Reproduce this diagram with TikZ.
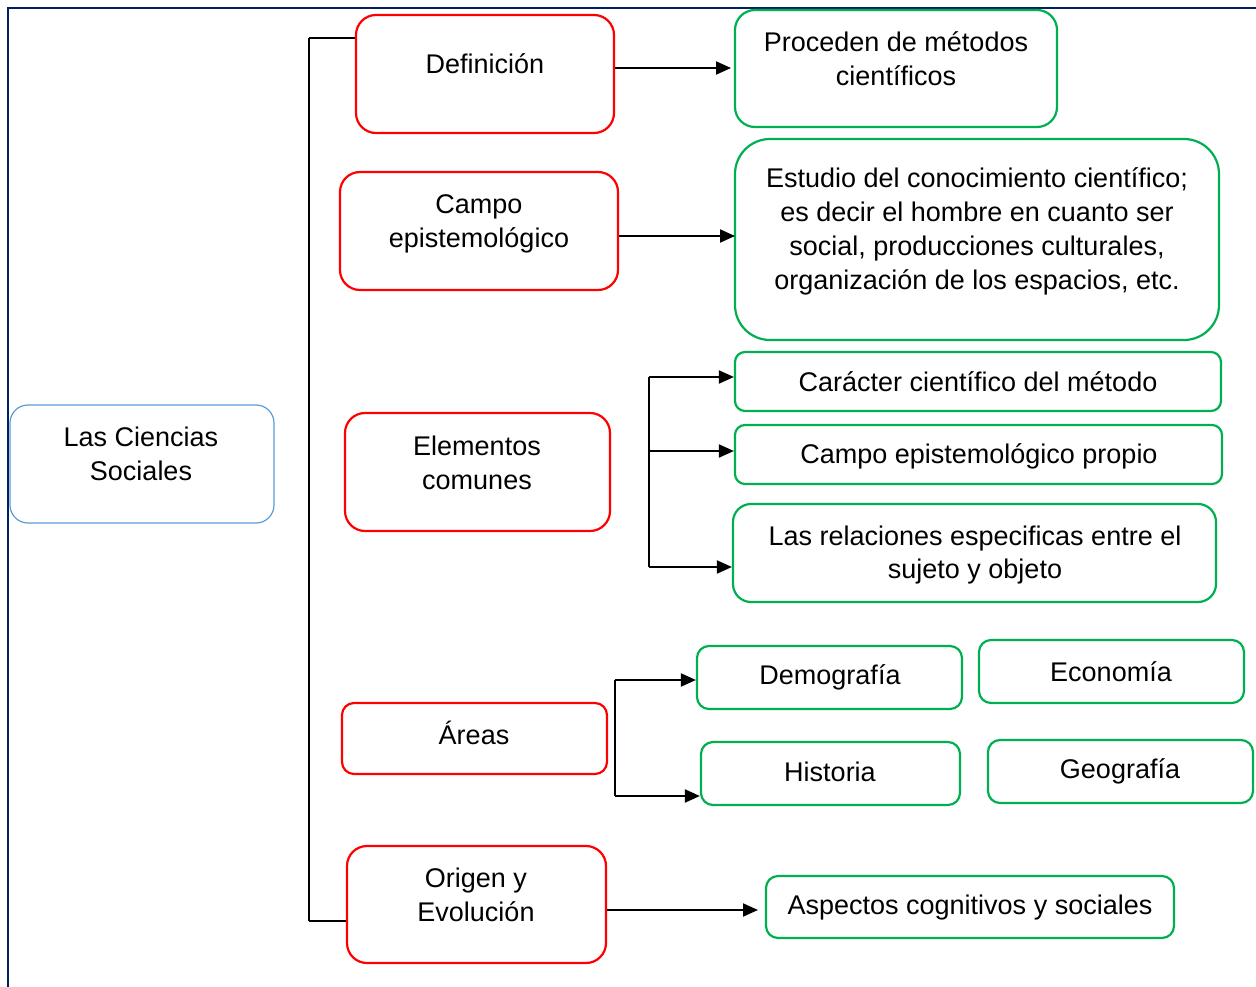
\documentclass[tikz,border=0pt]{standalone}
\usepackage{fontspec}
\setmainfont{Liberation Sans}
\usetikzlibrary{arrows.meta}
\definecolor{rojo}{HTML}{FF0000}
\definecolor{verde}{HTML}{00B050}
\definecolor{azul}{HTML}{5B9BD5}
\definecolor{marco}{HTML}{002060}
\begin{document}
\begin{tikzpicture}[x=1pt,y=-1pt,
  redbox/.style={draw=rojo,line width=2.2pt,rounded corners=20pt,inner sep=0pt},
  greenbox/.style={draw=verde,line width=2.2pt,rounded corners=13pt,inner sep=0pt},
  bluebox/.style={draw=azul,line width=1.2pt,rounded corners=18pt,inner sep=0pt},
  txt/.style={font=\fontsize{27}{33.8}\selectfont,align=center,inner sep=0pt},
  conn/.style={line width=2pt,black},
  thin/.style={line width=1.2pt,black},
  arr/.style={line width=2pt,-{Triangle[length=15pt,width=13pt]}}]
\useasboundingbox (0,0) rectangle (1256,987);
\draw[marco,line width=2.5pt] (8,987) -- (8,8) -- (1256,8);
% main box
\node[bluebox,minimum width=264pt,minimum height=118pt] (cs) at (142,464) {};
\node[txt] (cs-t) at (141,454) {Las Ciencias\\Sociales};
% red boxes
\node[redbox,minimum width=258pt,minimum height=118pt] (def) at (485,74) {};
\node[txt] (def-t) at (485,64) {Definición};
\node[redbox,minimum width=278pt,minimum height=118pt] (campo) at (479,231) {};
\node[txt] (campo-t) at (479,224) {Campo\\epistemológico};
\node[redbox,minimum width=265pt,minimum height=118pt] (elem) at (477.5,472) {};
\node[txt] (elem-t) at (477,463) {Elementos\\comunes};
\node[redbox,rounded corners=12pt,minimum width=265pt,minimum height=71pt] (areas) at (474.5,738.5) {};
\node[txt] (areas-t) at (474,733) {Áreas};
\node[redbox,minimum width=259pt,minimum height=117pt] (orig) at (476.5,904.5) {};
\node[txt] (orig-t) at (476,895) {Origen y\\Evolución};
% green boxes
\node[greenbox,rounded corners=20pt,minimum width=322pt,minimum height=117pt] (proc) at (896,68.5) {};
\node[txt] (proc-t) at (896,58.5) {Proceden de métodos\\científicos};
\node[greenbox,rounded corners=35pt,minimum width=484pt,minimum height=201pt] (est) at (977,239.5) {};
\node[txt] (est-t) at (977,231.5) {Estudio del conocimiento científico;\\es decir el hombre en cuanto ser\\social, producciones culturales,\\organización de los espacios, etc.};
\node[greenbox,rounded corners=10pt,minimum width=486pt,minimum height=59pt] (car) at (978,381.5) {};
\node[txt] (car-t) at (978,382) {Carácter científico del método};
\node[greenbox,rounded corners=10pt,minimum width=487pt,minimum height=59pt] (cep) at (978.5,454.5) {};
\node[txt] (cep-t) at (979,456) {Campo epistemológico propio};
\node[greenbox,rounded corners=18pt,minimum width=483pt,minimum height=98pt] (rel) at (974.5,553) {};
\node[txt] (rel-t) at (975,555) {Las relaciones especificas entre el\\sujeto y objeto};
\node[greenbox,rounded corners=12pt,minimum width=265pt,minimum height=63pt] (dem) at (829.5,677.5) {};
\node[txt] (dem-t) at (830,677.5) {Demografía};
\node[greenbox,rounded corners=12pt,minimum width=265pt,minimum height=63pt] (eco) at (1111.5,671.5) {};
\node[txt] (eco-t) at (1111,671.5) {Economía};
\node[greenbox,rounded corners=12pt,minimum width=259pt,minimum height=63pt] (his) at (830.5,773.5) {};
\node[txt] (his-t) at (830,772) {Historia};
\node[greenbox,rounded corners=12pt,minimum width=265pt,minimum height=63pt] (geo) at (1120.5,771.5) {};
\node[txt] (geo-t) at (1120,771) {Geografía};
\node[greenbox,rounded corners=12pt,minimum width=408pt,minimum height=62pt] (asp) at (970,907) {};
\node[txt] (asp-t) at (970,908) {Aspectos cognitivos y sociales};
% main bracket
\coordinate (bt) at (309,38);
\coordinate (bb) at (309,921);
\draw[conn] (bt) -- (bb);
\draw[thin] (bt) -- (def.west |- bt);
\draw[thin] (bb) -- (orig.west |- bb);
% arrows
\coordinate (d1) at (731,68);
\coordinate (c1) at (735,236);
\coordinate (o1) at (758,910);
\draw[arr] (def.east |- d1) -- (d1);
\draw[arr] (campo.east |- c1) -- (c1);
\draw[arr] (orig.east |- o1) -- (o1);
% elementos bracket
\coordinate (e1) at (649,377);
\coordinate (e2) at (649,451);
\coordinate (e3) at (649,567);
\draw[conn] (e1) -- (e3);
\draw[arr] (e1) -- (car.west |- e1);
\draw[arr] (e2) -- (cep.west |- e2);
\draw[arr] (e3) -- (rel.west |- e3);
% areas bracket
\coordinate (a1) at (615,680);
\coordinate (a2) at (615,796);
\draw[thin] (a1) -- (a2);
\draw[arr] (a1) -- (dem.west |- a1);
\draw[arr] (a2) -- (his.west |- a2);
\end{tikzpicture}
\end{document}
